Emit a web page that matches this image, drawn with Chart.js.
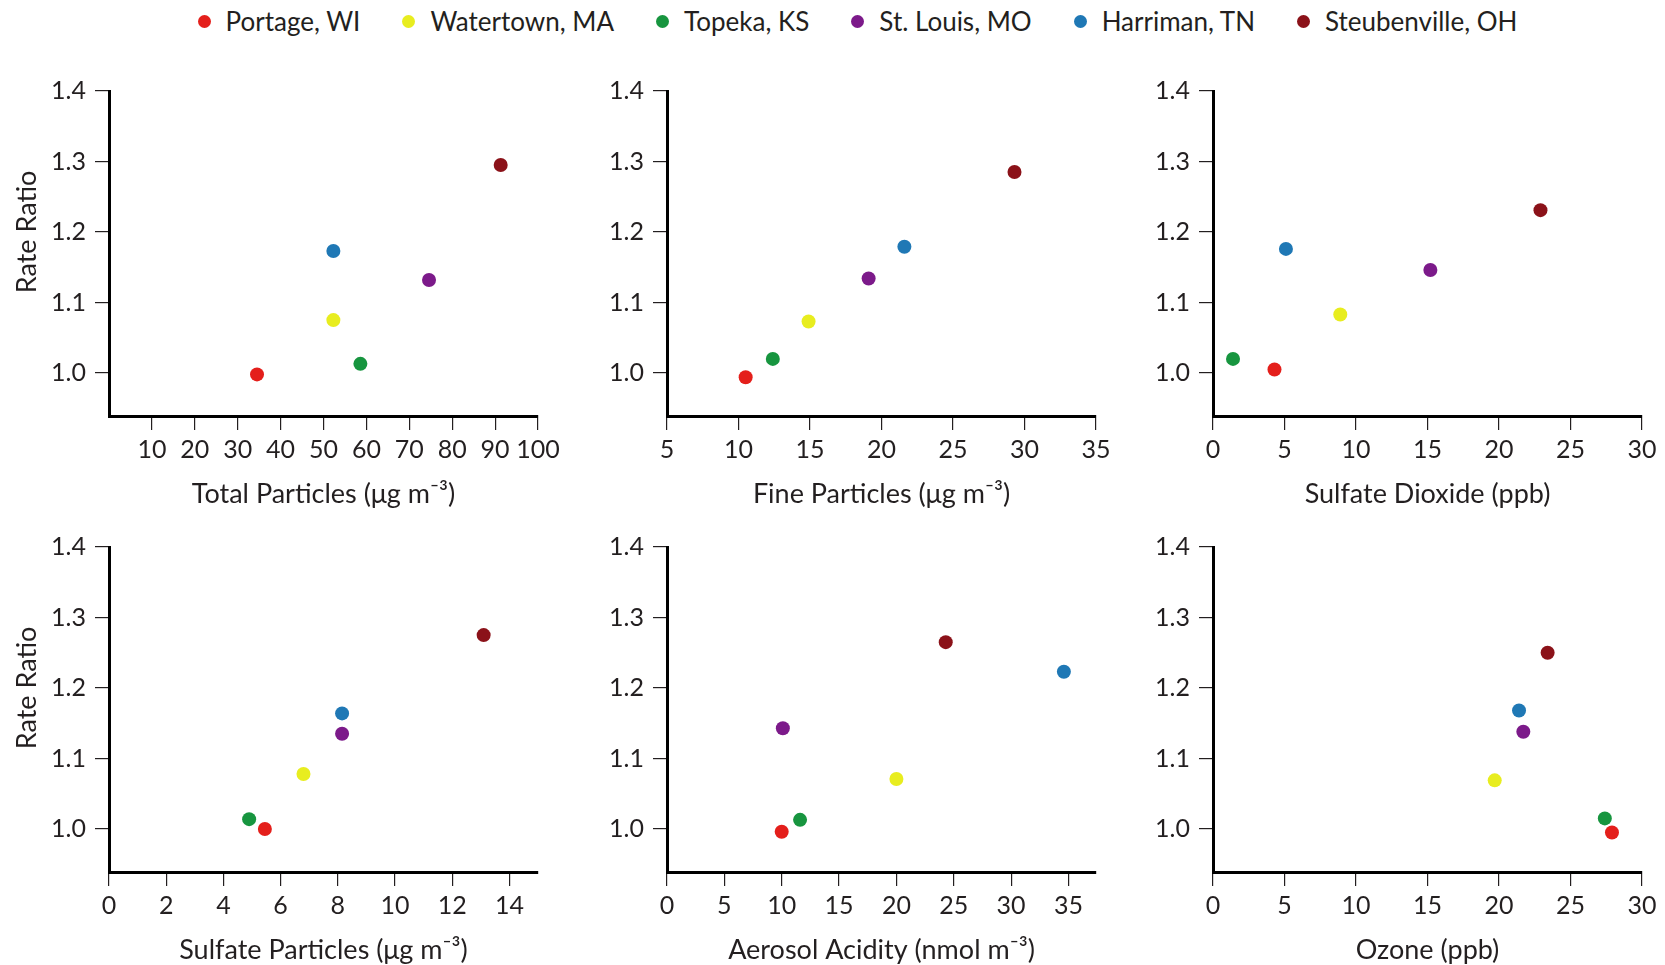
<!DOCTYPE html>
<html>
<head>
<meta charset="utf-8">
<script src="https://cdn.jsdelivr.net/npm/chart.js@4.4.0/dist/chart.umd.min.js"></script>
<style>
  body { margin: 0; background: #fff; width: 1665px; height: 965px; position: relative; overflow: hidden; font-family: Lato, sans-serif; color: #231f20; }
  #legend { position: absolute; top: 5px; left: 50px; width: 1615px; display: flex; justify-content: center; font-size: 26px; line-height: 32px; }
  #legend .item { display: flex; align-items: center; margin: 0 21px; }
  #legend .dot { width: 13px; height: 13px; border-radius: 50%; margin-right: 15px; }
  canvas { position: absolute; }
</style>
</head>
<body>
<div id="legend"></div>
<canvas id="c0"></canvas>
<canvas id="c1"></canvas>
<canvas id="c2"></canvas>
<canvas id="c3"></canvas>
<canvas id="c4"></canvas>
<canvas id="c5"></canvas>
<script>
// cities, in legend order
var cities = ["Portage, WI", "Watertown, MA", "Topeka, KS", "St. Louis, MO", "Harriman, TN", "Steubenville, OH"];
var cityColors = ["#e41f1b", "#e8ed1f", "#17953f", "#7c1a8a", "#1f78b5", "#8b1219"];

var xTitles = [
  "Total Particles (μg m⁻³)",
  "Fine Particles (μg m⁻³)",
  "Sulfate Dioxide (ppb)",
  "Sulfate Particles (μg m⁻³)",
  "Aerosol Acidity (nmol m⁻³)",
  "Ozone (ppb)"
];

// exposure levels per city (same order as cities)
var totalParticles   = [34.5, 52.3, 58.6, 74.6, 52.3, 91.3];
var fineParticles    = [10.5, 14.9, 12.4, 19.1, 21.6, 29.3];
var sulfurDioxide    = [4.3, 8.9, 1.4, 15.2, 5.1, 22.9];
var sulfateParticles = [5.45, 6.8, 4.9, 8.15, 8.15, 13.1];
var aerosolAcidity   = [10.0, 20.0, 11.6, 10.1, 34.6, 24.3];
var ozone            = [27.9, 19.7, 27.4, 21.7, 21.4, 23.4];

// rate ratios per city, per panel
var rrTotal    = [0.998, 1.075, 1.013, 1.132, 1.173, 1.295];
var rrFine     = [0.994, 1.073, 1.020, 1.134, 1.179, 1.285];
var rrSO2      = [1.005, 1.083, 1.020, 1.146, 1.176, 1.231];
var rrSulfate  = [1.000, 1.078, 1.014, 1.135, 1.164, 1.275];
var rrAcidity  = [0.996, 1.071, 1.013, 1.143, 1.223, 1.265];
var rrOzone    = [0.995, 1.069, 1.015, 1.138, 1.168, 1.250];

var yTicks = [1.0, 1.1, 1.2, 1.3, 1.4];
var xTicks = [
  [10, 20, 30, 40, 50, 60, 70, 80, 90, 100],
  [5, 10, 15, 20, 25, 30, 35],
  [0, 5, 10, 15, 20, 25, 30],
  [0, 2, 4, 6, 8, 10, 12, 14],
  [0, 5, 10, 15, 20, 25, 30, 35],
  [0, 5, 10, 15, 20, 25, 30]
];
var xMin = [0, 5, 0, 0, 0, 0];
var xMax = [100, 35, 30, 15, 37.4, 30];

var panelX = [totalParticles, fineParticles, sulfurDioxide, sulfateParticles, aerosolAcidity, ozone];
var panelY = [rrTotal, rrFine, rrSO2, rrSulfate, rrAcidity, rrOzone];

// legend
var legend = document.getElementById("legend");
cities.forEach(function (c, i) {
  var item = document.createElement("div");
  item.className = "item";
  item.innerHTML = '<span class="dot" style="background:' + cityColors[i] + '"></span><span>' + c + '</span>';
  legend.appendChild(item);
});

Chart.defaults.font.family = "Lato, sans-serif";
Chart.defaults.color = "#231f20";

var ink = "#231f20";
var yW = 105, plotW = 429, plotH = 328.5, padTop = 20, padRight = 40, xH = 110;
var colX = [109, 667, 1212.5];
var rowY = [86.7, 542.7];

// "Rate Ratio" label centred on the tick range
var rateTitle = {
  id: "rateTitle",
  afterDraw: function (chart, args, opts) {
    if (!opts.text) return;
    var ctx = chart.ctx;
    var mid = (yTicks[0] + yTicks[yTicks.length - 1]) / 2;
    ctx.save();
    ctx.font = "27px Lato, sans-serif";
    ctx.fillStyle = ink;
    ctx.textAlign = "center";
    ctx.textBaseline = "middle";
    ctx.translate(opts.x, chart.scales.y.getPixelForValue(mid));
    ctx.rotate(-Math.PI / 2);
    ctx.fillText(opts.text, 0, 0);
    ctx.restore();
  }
};

for (var p = 0; p < 6; p++) {
  (function (p) {
    var col = p % 3, row = Math.floor(p / 3);
    var canvas = document.getElementById("c" + p);
    var left = Math.round(colX[col] - yW);
    var top = Math.round(rowY[row] - padTop);
    canvas.width = yW + plotW + padRight;
    canvas.height = Math.round(padTop + plotH + xH);
    canvas.style.left = left + "px";
    canvas.style.top = top + "px";

    var datasets = cities.map(function (c, i) {
      return {
        label: c,
        data: [{ x: panelX[p][i], y: panelY[p][i] }],
        backgroundColor: cityColors[i],
        borderColor: cityColors[i],
        borderWidth: 0,
        pointRadius: 7,
        pointHoverRadius: 7
      };
    });

    new Chart(canvas, {
      type: "scatter",
      data: { datasets: datasets },
      options: {
        responsive: false,
        animation: false,
        layout: { padding: { top: padTop, right: padRight, left: 0, bottom: 0 } },
        plugins: {
          legend: { display: false },
          tooltip: { enabled: false },
          rateTitle: { text: col === 0 ? "Rate Ratio" : "", x: 27 - left }
        },
        scales: {
          x: {
            type: "linear",
            min: xMin[p],
            max: xMax[p],
            afterFit: function (s) { s.height = xH; },
            afterBuildTicks: function (s) { s.ticks = xTicks[p].map(function (v) { return { value: v }; }); },
            border: { display: true, color: "#000", width: 3 },
            grid: { drawOnChartArea: false, drawTicks: true, tickLength: 14, color: ink, lineWidth: 1.2 },
            ticks: { autoSkip: false, maxRotation: 0, padding: 5, font: { size: 25 }, color: ink },
            title: { display: true, text: xTitles[p], font: { size: 27 }, color: ink, padding: { top: 0, bottom: 16 } }
          },
          y: {
            type: "linear",
            min: 0.939,
            max: 1.4,
            afterFit: function (s) { s.width = yW; },
            afterBuildTicks: function (s) { s.ticks = yTicks.map(function (v) { return { value: v }; }); },
            border: { display: true, color: "#000", width: 3 },
            grid: { drawOnChartArea: false, drawTicks: true, tickLength: 14, color: ink, lineWidth: 1.2 },
            ticks: { padding: 9, font: { size: 25 }, color: ink, callback: function (v) { return v.toFixed(1); } }
          }
        }
      },
      plugins: [rateTitle]
    });
  })(p);
}
</script>
</body>
</html>
